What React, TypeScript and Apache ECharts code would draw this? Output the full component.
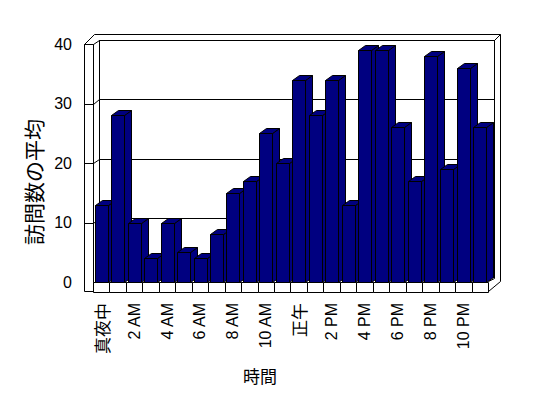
import React, { useEffect, useRef } from "react";
import * as echarts from "echarts";

const hours = [
  "真夜中", "1 AM", "2 AM", "3 AM", "4 AM", "5 AM", "6 AM", "7 AM", "8 AM", "9 AM", "10 AM", "11 AM",
  "正午", "1 PM", "2 PM", "3 PM", "4 PM", "5 PM", "6 PM", "7 PM", "8 PM", "9 PM", "10 PM", "11 PM",
];
const avgVisits = [13, 28, 10, 4, 10, 5, 4, 8, 15, 17, 25, 20, 34, 28, 34, 13, 39, 39, 26, 17, 38, 19, 36, 26];
const yTicks = [0, 10, 20, 30, 40];
const yAxisTitle = "訪問数の平均";
const xAxisTitle = "時間";

// layout
const FL = 93, PW = 395, FT = 44, PH = 238; // front plane
const BL = 99, BT = 40, BH = 237.5; // back wall
const DX = 7, DY = 5; // bar depth
const NAVY = "#000080";
const YMAX = 40;

const px = (v: number) => Math.round(v) + 0.5;

export default function App() {
  const ref = useRef<HTMLDivElement>(null);
  useEffect(() => {
    if (!ref.current) return;
    const chart = echarts.init(ref.current, null, { renderer: "svg" });
    const lineStyle = { stroke: "#000", lineWidth: 1, fill: "none" };
    const graphics: any[] = [];
    // left slab
    graphics.push({ type: "rect", z: 1, shape: { x: 84.5, y: 44.5, width: 9, height: 247 }, style: { fill: "#fff", stroke: "#000", lineWidth: 1 } });
    // top of walls
    graphics.push({ type: "polyline", z: 1, shape: { points: [[84.5, 44.5], [94.5, 34.5], [500.5, 34.5], [494.5, 40.5]] }, style: lineStyle });
    graphics.push({ type: "line", z: 1, shape: { x1: 99.5, y1: 40.5, x2: 99.5, y2: 277.5 }, style: lineStyle });
    graphics.push({ type: "line", z: 1, shape: { x1: 494.5, y1: 40.5, x2: 494.5, y2: 278.5 }, style: lineStyle });
    graphics.push({ type: "line", z: 1, shape: { x1: 500.5, y1: 34.5, x2: 500.5, y2: 281.5 }, style: lineStyle });
    graphics.push({ type: "line", z: 1, shape: { x1: 488.5, y1: 281.5, x2: 494.5, y2: 278.5 }, style: lineStyle });
    graphics.push({ type: "line", z: 1, shape: { x1: 488.5, y1: 291.5, x2: 500.5, y2: 281.5 }, style: lineStyle });
    // front ticks and diagonals to back wall
    yTicks.forEach((v) => {
      if (v === 0) return;
      const yf = px(FT + ((YMAX - v) / YMAX) * PH);
      const yb = px(BT + ((YMAX - v) / YMAX) * BH);
      graphics.push({ type: "line", z: 1, shape: { x1: 84.5, y1: yf, x2: 93.5, y2: yf }, style: lineStyle });
      graphics.push({ type: "line", z: 1, shape: { x1: 93.5, y1: yf, x2: 99.5, y2: yb }, style: lineStyle });
    });
    // titles
    graphics.push({
      type: "text", x: 33, y: 182, rotation: Math.PI / 2,
      style: { text: yAxisTitle, fontSize: 21, fontFamily: "Noto Sans CJK JP", fill: "#000", align: "center", verticalAlign: "middle" },
    });
    graphics.push({
      type: "text", x: 260, y: 375,
      style: { text: xAxisTitle, fontSize: 17, fontFamily: "Noto Sans CJK JP", fill: "#000", align: "center", verticalAlign: "middle" },
    });

    chart.setOption({
      animation: false,
      backgroundColor: "#fff",
      grid: [
        { left: FL, top: FT, width: PW, height: PH },
        { left: BL, top: BT, width: PW + 1, height: BH },
      ],
      xAxis: [
        {
          type: "category", gridIndex: 0, data: hours,
          axisLine: { show: false }, axisTick: { show: false },
          axisLabel: {
            interval: 1, rotate: 90, margin: 21, fontSize: 16,
            fontFamily: "Liberation Sans", color: "#000",
            formatter: (val: string) => (/[A-Z0-9]/.test(val) ? val : `{j|${val}}`),
            rich: { j: { fontSize: 17, fontFamily: "Noto Sans CJK JP", color: "#000" } },
          },
        },
        { type: "category", gridIndex: 1, data: hours, show: false },
      ],
      yAxis: [
        {
          type: "value", gridIndex: 0, min: 0, max: YMAX, interval: 10,
          axisLine: { show: false }, axisTick: { show: false }, splitLine: { show: false },
          axisLabel: { margin: 21, fontSize: 16, fontFamily: "Liberation Sans", color: "#000" },
        },
        {
          type: "value", gridIndex: 1, min: 0, max: YMAX, interval: 10,
          axisLine: { show: false }, axisTick: { show: false }, axisLabel: { show: false },
          splitLine: { show: true, lineStyle: { color: "#000", width: 1 } },
        },
      ],
      graphic: graphics,
      series: [
        {
          type: "custom",
          xAxisIndex: 0, yAxisIndex: 0,
          clip: false,
          data: avgVisits.map((v, i) => [i, v]),
          renderItem: (params: any, api: any) => {
            const i = api.value(0);
            const v = api.value(1);
            const top = api.coord([i, v]);
            const base = api.coord([i, 0]);
            const w = api.size([1, 0])[0];
            const cl = base[0] - w / 2;
            const xl = px(cl + 1.8);
            const xr = xl + 13;
            const yt = px(top[1]);
            const yb = px(base[1]);
            const edge = { stroke: "#000", lineWidth: 1 };
            const c0 = px(cl);
            const c1 = px(cl + w);
            return {
              type: "group",
              children: [
                { type: "rect", shape: { x: c0, y: yb, width: c1 - c0, height: 10 }, style: { fill: "#fff", ...edge } },
                { type: "polygon", shape: { points: [[xr, yt], [xr + DX, yt - DY], [xr + DX, yb - DY], [xr, yb]] }, style: { fill: NAVY, ...edge } },
                { type: "polygon", shape: { points: [[xl, yt], [xl + DX, yt - DY], [xr + DX, yt - DY], [xr, yt]] }, style: { fill: NAVY, ...edge } },
                { type: "rect", shape: { x: xl, y: yt, width: xr - xl, height: yb - yt }, style: { fill: NAVY, ...edge } },
              ],
            };
          },
        },
      ],
    });
    return () => chart.dispose();
  }, []);
  return <div ref={ref} style={{ position: "fixed", left: 0, top: 0, width: 548, height: 398 }} />;
}
